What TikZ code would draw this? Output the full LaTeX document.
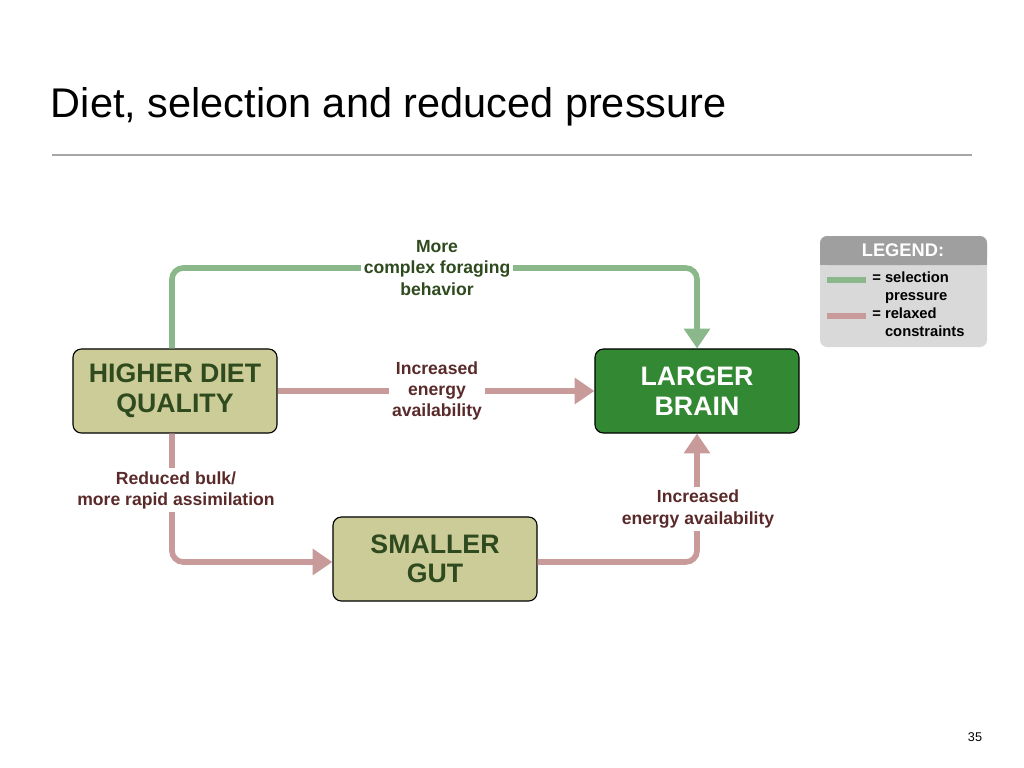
\documentclass[tikz,border=0pt]{standalone}
\usepackage{fontspec}
\setmainfont{Liberation Sans}
\usetikzlibrary{positioning, arrows.meta}
\definecolor{selgreen}{HTML}{8AB88A}
\definecolor{relpink}{HTML}{C99A9A}
\definecolor{olivebox}{HTML}{CCCC99}
\definecolor{darkgreen}{HTML}{338833}
\definecolor{boxtext}{HTML}{2E4A1E}
\definecolor{labtext}{HTML}{5A2A2A}

\begin{document}
\begin{tikzpicture}[
    x=0.025cm, y=-0.025cm,
    box/.style={rectangle, rounded corners=6pt, draw=black, thick, fill=olivebox, minimum width=5.1cm, minimum height=2.1cm, align=center, font=\fontsize{19}{21}\selectfont\bfseries, text=boxtext},
    lab/.style={fill=white, align=center, font=\fontsize{12.5}{15}\selectfont\bfseries, text=labtext, inner sep=2pt},
    sel/.style={-{Triangle[length=14pt, width=18pt]}, line width=4pt, selgreen, rounded corners=8pt},
    rel/.style={-{Triangle[length=14pt, width=18pt]}, line width=4pt, relpink, rounded corners=8pt}
]
\useasboundingbox (0,0) rectangle (1024,768);

% Title
\node[anchor=west, font=\fontsize{29.5}{33}\selectfont] (title) at (46,107) {Diet, selection and reduced pressure};
\draw[gray!70, line width=0.8pt] (52,155) -- (972,155);

% Boxes
\node[box] (diet) at (175,391) {HIGHER DIET\\QUALITY};
\node[box, fill=darkgreen, text=white] (brain) at (697,391) {LARGER\\BRAIN};
\node[box] (gut) at (435,559) {SMALLER\\GUT};

% Connector corners
\coordinate (c1) at (172,268);
\coordinate (c2) at (697,268);
\coordinate (c3) at (172,562);
\coordinate (c4) at (697,562);

% Arrows
\draw[sel] (diet.north -| c1) -- (c1) -- (c2) -- (brain.north);
\draw[rel] (diet.east) -- (brain.west);
\draw[rel] (diet.south -| c3) -- (c3) -- (gut.west |- c3);
\draw[rel] (gut.east |- c4) -- (c4) -- (brain.south);

% Labels
\node[lab, text=boxtext] (lforage) at (437,268) {More\\complex foraging\\behavior};
\node[lab] (lenergy) at (437,391) {Increased\\energy\\availability};
\node[lab] (lbulk) at (176,490) {Reduced bulk/\\more rapid assimilation};
\node[lab] (lenergy2) at (698,509) {Increased\\energy availability};

% Legend
\fill[gray!30, rounded corners=5pt] (820,236) rectangle (987,347);
\fill[gray!75, rounded corners=5pt] (820,236) rectangle (987,265);
\fill[gray!75] (820,255) rectangle (987,265);
\node[text=white, font=\fontsize{13}{14}\selectfont\bfseries] (legtitle) at (903,250) {LEGEND:};
\draw[selgreen, line width=4pt] (827,280) -- (866,280);
\draw[relpink, line width=4pt] (827,316) -- (866,316);
\node[anchor=north west, align=left, font=\fontsize{10.5}{12.7}\selectfont\bfseries, inner sep=0pt] (legtext) at (872,272) {= selection\\\phantom{= }pressure\\= relaxed\\\phantom{= }constraints};

% Page number
\node[font=\fontsize{9}{10}\selectfont] (page) at (975,737) {35};
\end{tikzpicture}
\end{document}
